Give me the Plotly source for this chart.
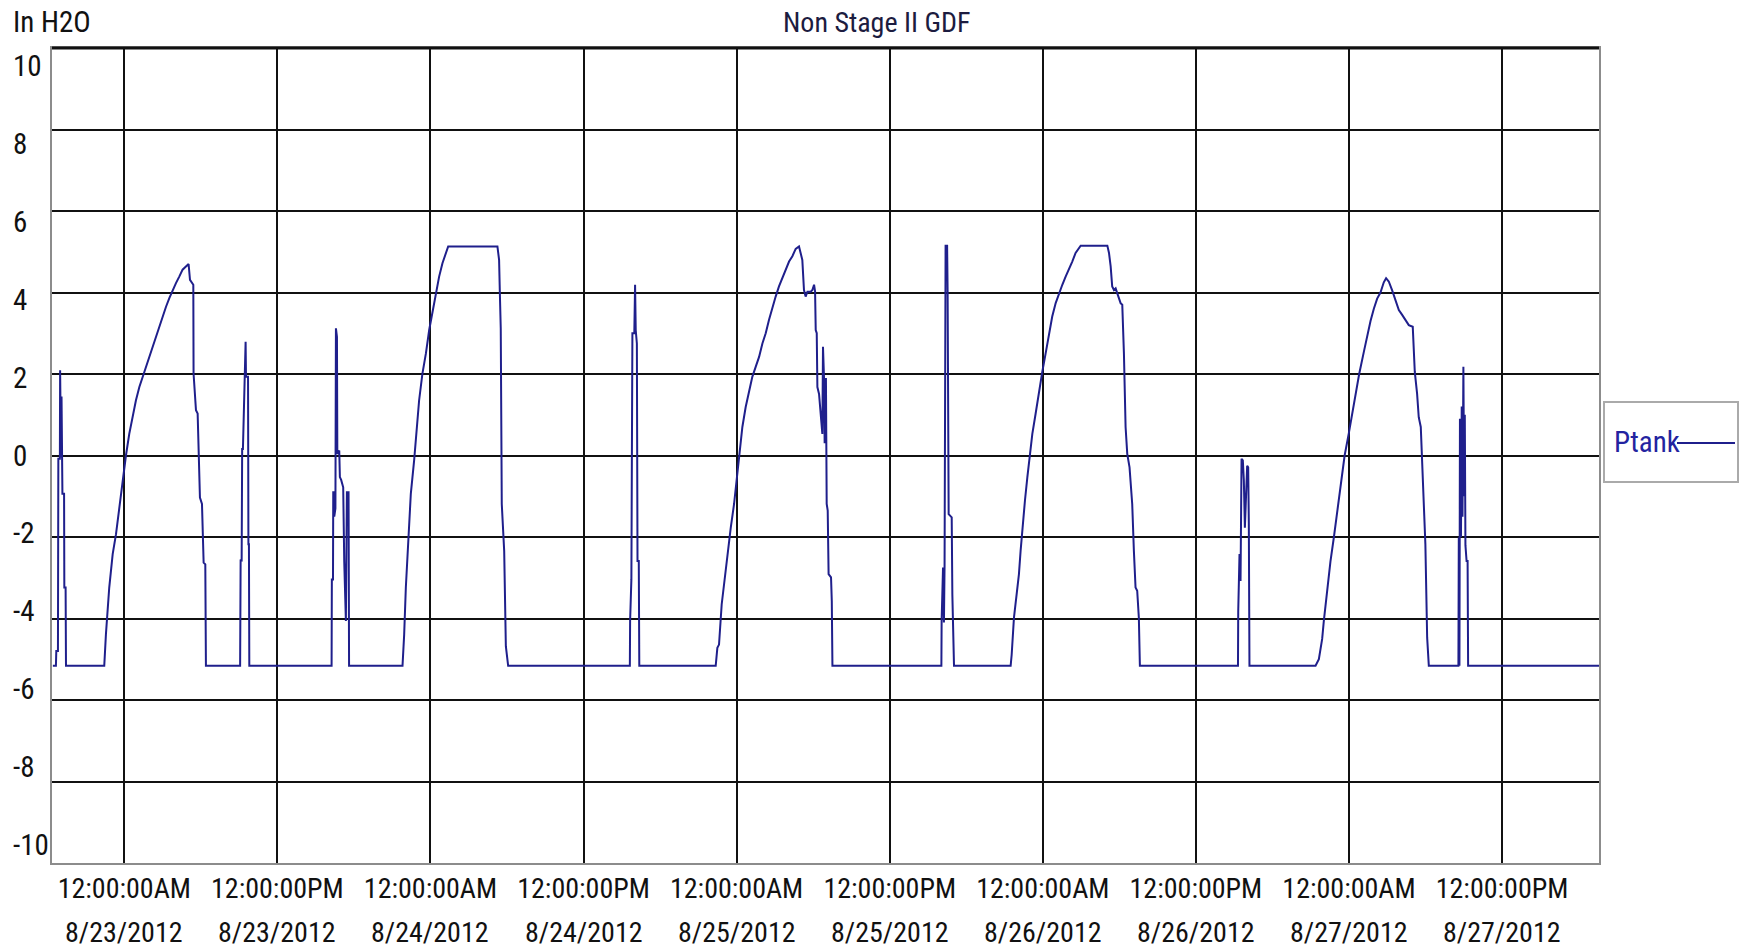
import plotly.graph_objects as go
import pandas as pd

# ---------------- data (hours after 8/23/2012 00:00, Ptank in In H2O) ----------------
START = "2012-08-23 00:00"

hours = [
    -5.60, -5.36, -5.33, -5.20, -5.17, -5.05, -5.03, -5.00, -4.96, -4.92, -4.88, -4.85, -4.72, -4.70, -4.60, -4.57,
    -1.57, -1.44, -1.18, -0.91, -0.65, -0.39, -0.13, 0.13, 0.39, 0.65, 0.91, 1.18, 1.44, 1.70, 1.96, 2.22, 2.48,
    2.74, 3.00, 3.27, 3.53, 3.79, 4.05, 4.31, 4.57, 4.83, 5.04, 5.15, 5.30, 5.41, 5.43, 5.62, 5.75, 5.82, 5.93,
    6.09, 6.22, 6.35, 6.40,
    9.08, 9.12, 9.20, 9.24, 9.30, 9.45, 9.51, 9.54, 9.70, 9.73, 9.77, 9.80,
    16.25, 16.27, 16.36, 16.38, 16.44, 16.46, 16.55, 16.59, 16.67, 16.70, 16.85, 16.90, 17.00, 17.16, 17.24,
    17.37, 17.45, 17.58, 17.62,
    21.81, 21.94, 22.07, 22.33, 22.46, 22.72, 22.85, 23.11, 23.37, 23.64, 23.90, 24.16, 24.42, 24.68, 24.94,
    25.21, 25.39, 29.25, 29.38, 29.44, 29.51, 29.59, 29.78, 29.91, 30.09,
    39.63, 39.65, 39.75, 39.83, 39.98, 40.04, 40.09, 40.18, 40.23, 40.33, 40.37,
    46.36, 46.49, 46.62, 46.83, 47.01, 47.28, 47.54, 47.80, 47.98, 48.19, 48.45, 48.71, 48.97, 49.23, 49.50,
    49.76, 50.02, 50.28, 50.54, 50.80, 51.06, 51.32, 51.59, 51.85, 52.11, 52.37, 52.63, 52.89, 53.02, 53.15,
    53.28, 53.41, 53.55, 53.81, 53.94, 54.07, 54.15, 54.20, 54.28, 54.33, 54.46, 54.59, 54.72, 54.77, 54.85,
    54.90, 54.95, 55.00, 55.06, 55.14, 55.21, 55.40, 55.46, 55.51,
    64.05, 64.07, 64.18, 64.25, 64.30, 64.38, 64.50, 64.54, 64.62, 64.86, 64.91, 65.04,
    69.48, 69.56, 69.74, 69.87, 70.05, 70.13, 70.26, 70.44, 70.60, 70.79, 70.97, 71.18, 71.44, 71.70, 71.96,
    72.22, 72.48, 72.74, 73.01, 73.27, 73.53, 73.79, 74.05, 74.31, 74.57, 74.84, 74.97, 77.06, 77.19, 77.32,
    77.44, 77.58, 77.71, 77.84, 77.97, 78.10, 78.23, 78.36, 78.49, 78.62, 78.80, 79.01, 79.14, 79.27, 79.40,
    79.53, 79.61,
    87.30, 87.32, 87.42, 87.50, 87.58, 87.68, 87.76, 87.84, 87.92, 88.02, 88.10, 88.15, 88.20,
    93.38, 93.64, 93.90, 94.03, 94.29, 94.55, 94.82, 95.08, 95.34, 95.66, 95.99, 96.25, 96.51, 96.80, 97.17,
    97.43, 97.69, 97.95, 98.21, 98.47, 98.73, 98.91, 99.12, 99.38, 99.64, 99.91, 100.17, 100.43, 100.69, 101.00,
    101.08, 101.16, 101.34, 101.47, 101.63, 101.73, 101.86, 101.99, 102.13, 102.26,
    104.58, 104.61, 104.66, 104.70, 104.78, 104.84, 104.90, 104.97, 105.03, 105.08, 105.13, 105.22, 105.30,
    105.34, 115.60,
]

ptank = [
    -5.16, -5.16, -4.80, -4.80, -0.08, -0.08, 2.09, 1.40, -0.05, 1.45, -0.05, -0.94, -0.94, -3.24, -3.24, -5.16,
    -5.16, -4.39, -3.24, -2.42, -1.93, -1.27, -0.62, 0.00, 0.53, 0.94, 1.35, 1.68, 1.93, 2.18, 2.42, 2.67, 2.91,
    3.16, 3.41, 3.65, 3.86, 4.06, 4.23, 4.39, 4.56, 4.64, 4.70, 4.31, 4.23, 4.19, 2.01, 1.11, 1.03, -0.08, -1.03,
    -1.19, -2.63, -2.67, -5.16,
    -5.16, -2.55, -2.60, 0.16, 0.16, 1.93, 2.79, 1.93, 1.93, -2.18, -2.18, -5.16,
    -5.16, -3.04, -3.04, -0.90, -0.90, -1.50, -1.30, 3.12, 2.91, 0.04, 0.12, -0.53, -0.60, -0.78, -2.59,
    -4.06, -0.90, -0.90, -5.16,
    -5.16, -4.39, -3.24, -1.77, -0.94, -0.12, 0.37, 1.35, 2.01, 2.50, 3.08, 3.50, 3.98, 4.39, 4.72,
    4.97, 5.13, 5.13, 4.80, 3.98, 3.12, -1.19, -2.34, -4.68, -5.16,
    -5.16, -4.06, -3.04, 3.00, 3.00, 4.19, 3.08, 2.75, -2.59, -2.59, -5.16,
    -5.16, -4.72, -4.64, -3.65, -3.16, -2.34, -1.77, -1.19, -0.62, 0.04, 0.70, 1.19, 1.60, 1.93, 2.18,
    2.42, 2.75, 3.00, 3.33, 3.65, 3.90, 4.15, 4.35, 4.56, 4.76, 4.89, 5.07, 5.13, 4.97, 4.80,
    4.06, 3.90, 4.02, 4.02, 4.06, 4.19, 4.02, 3.08, 3.00, 1.68, 1.51, 1.03, 0.53, 2.67, 1.90,
    0.30, 1.90, 1.90, -1.19, -1.35, -2.91, -2.99, -3.57, -5.16,
    -5.16, -4.06, -2.75, -4.10, -2.70, 5.15, 5.15, 3.98, -1.44, -1.52, -3.41, -5.16,
    -5.16, -4.89, -3.98, -3.65, -3.24, -2.91, -2.34, -1.60, -1.11, -0.53, 0.04, 0.53, 1.03, 1.60, 2.05,
    2.50, 3.00, 3.41, 3.74, 3.98, 4.19, 4.39, 4.56, 4.76, 4.97, 5.09, 5.15, 5.15, 4.97, 4.64,
    4.15, 4.06, 4.10, 3.98, 3.86, 3.74, 3.70, 2.50, 0.70, 0.04, -0.29, -1.19, -2.34, -3.24, -3.32,
    -3.98, -5.16,
    -5.16, -3.82, -2.42, -3.08, -0.08, -0.12, -0.60, -1.77, -0.80, -0.25, -0.29, -1.64, -5.16,
    -5.16, -5.00, -4.50, -4.06, -3.30, -2.60, -2.00, -1.40, -0.80, 0.00, 0.55, 1.05, 1.45, 2.00, 2.55,
    2.95, 3.30, 3.60, 3.85, 4.00, 4.25, 4.35, 4.27, 4.06, 3.82, 3.57, 3.45, 3.33, 3.20, 3.16,
    2.50, 2.05, 1.52, 0.94, 0.70, -0.08, -1.27, -2.18, -4.47, -5.16,
    -5.16, -2.01, -5.16, 0.90, -2.00, 1.20, -1.50, 2.18, -1.00, 1.00, -2.20, -2.59, -2.59,
    -5.16, -5.16,
]

x_range = ["2012-08-22 18:20", "2012-08-27 19:36"]
tick_times = ["2012-08-23 00:00", "2012-08-23 12:00", "2012-08-24 00:00", "2012-08-24 12:00",
              "2012-08-25 00:00", "2012-08-25 12:00", "2012-08-26 00:00", "2012-08-26 12:00",
              "2012-08-27 00:00", "2012-08-27 12:00"]
time_labels = ["12:00:00AM", "12:00:00PM"] * 5
date_labels = ["8/23/2012", "8/23/2012", "8/24/2012", "8/24/2012", "8/25/2012",
               "8/25/2012", "8/26/2012", "8/26/2012", "8/27/2012", "8/27/2012"]
y_ticks = [10, 8, 6, 4, 2, 0, -2, -4, -6, -8, -10]

series_name = "Ptank"
title_text = "Non Stage II GDF"
unit_text = "In H2O"

# ---------------- figure ----------------
FONT = "Liberation Sans Narrow, Arial Narrow, Roboto Condensed, DejaVu Sans Condensed, sans-serif"
LINE_COLOR = "#1f1f8c"
GRID = "#111111"
FS = 28

times = [pd.Timestamp(START) + pd.Timedelta(hours=h) for h in hours]

fig = go.Figure()
fig.add_trace(go.Scatter(x=times, y=ptank, mode="lines", name=series_name,
                         line=dict(color=LINE_COLOR, width=2), showlegend=False))

W, H = 1740, 951
L, R, T, B = 52, 141, 48, 88
pw, ph = W - L - R, H - T - B

annotations = []
for v in y_ticks:
    annotations.append(dict(xref="paper", yref="y", x=(11 - L) / pw, y=v, xanchor="left",
                            yanchor="middle", yshift=-1.82 * v, text=str(v), showarrow=False,
                            font=dict(family=FONT, size=29, color="#111111")))
for t, d in zip(tick_times, date_labels):
    annotations.append(dict(xref="x", yref="paper", x=t, y=0, xanchor="center", yanchor="middle",
                            yshift=-(932 - (H - B)), text=d, showarrow=False,
                            font=dict(family=FONT, size=FS, color="#111111")))
annotations.append(dict(xref="paper", yref="paper", x=(11 - L) / pw, y=1, xanchor="left",
                        yanchor="middle", yshift=T - 22, text=unit_text, showarrow=False,
                        font=dict(family=FONT, size=29, color="#111111")))
annotations.append(dict(xref="paper", yref="paper", x=(876 - L) / pw, y=1, xanchor="center",
                        yanchor="middle", yshift=T - 22, text=title_text, showarrow=False,
                        font=dict(family=FONT, size=FS, color="#1c1c40")))
# legend entry (text followed by line sample)
annotations.append(dict(xref="paper", yref="paper", x=(1612 - L) / pw, y=(H - B - 442) / ph,
                        xanchor="left", yanchor="middle", text=series_name, showarrow=False,
                        font=dict(family=FONT, size=29, color="#2323a0")))

shapes = [
    dict(type="rect", xref="paper", yref="paper", x0=(1604 - L) / pw, x1=(1738 - L) / pw,
         y0=(H - B - 482) / ph, y1=(H - B - 402) / ph, line=dict(color="#aaaaaa", width=2),
         fillcolor="white"),
    dict(type="line", xref="paper", yref="paper", x0=(1677 - L) / pw, x1=(1735 - L) / pw,
         y0=(H - B - 443) / ph, y1=(H - B - 443) / ph, line=dict(color=LINE_COLOR, width=2)),
    dict(type="line", xref="paper", yref="paper", x0=0, x1=1, y0=1, y1=1,
         line=dict(color="#111111", width=3)),
]

fig.update_layout(
    width=W, height=H, margin=dict(l=L, r=R, t=T, b=B, pad=0),
    paper_bgcolor="white", plot_bgcolor="white",
    font=dict(family=FONT, size=FS, color="#111111"),
    annotations=annotations, shapes=shapes, showlegend=False,
    xaxis=dict(type="date", range=x_range, tickmode="array", tickvals=tick_times, ticktext=time_labels,
               ticks="", ticklabelstandoff=-1, tickfont=dict(family=FONT, size=FS, color="#111111"),
               showgrid=True, gridcolor=GRID, gridwidth=2, showline=True, linecolor="#8c8c8c",
               linewidth=2, mirror=True, zeroline=False, fixedrange=True),
    yaxis=dict(range=[-10, 10], tickmode="array", tickvals=y_ticks, showticklabels=False, ticks="",
               showgrid=True, gridcolor=GRID, gridwidth=2, zeroline=True, zerolinecolor=GRID,
               zerolinewidth=2, showline=True, linecolor="#8c8c8c", linewidth=2, mirror=True,
               fixedrange=True),
)

fig.write_html("out.html")
